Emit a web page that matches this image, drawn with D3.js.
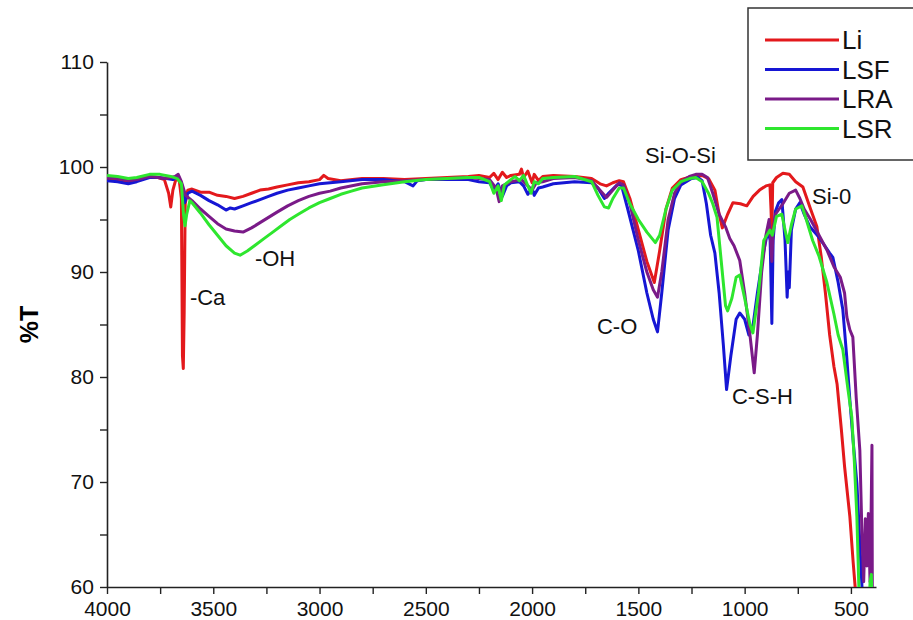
<!DOCTYPE html>
<html>
<head>
<meta charset="utf-8">
<script src="https://cdn.jsdelivr.net/npm/d3@7"></script>
<style>
  body { margin: 0; background: #fff; }
  svg { font-family: "Liberation Sans", Arial, sans-serif; }
</style>
</head>
<body>
<svg width="913" height="620"></svg>
<script>
// FTIR spectra, [wavenumber cm-1, %T]
const li = [[4000,98.9],[3950,98.8],[3900,98.6],[3860,98.8],[3800,99.1],[3760,99.0],[3730,98.8],[3710,97.5],[3700,96.2],[3690,97.8],[3675,98.9],[3660,98.7],[3650,97.0],[3645,82],[3641,80.8],[3637,86],[3632,96.5],[3620,97.8],[3600,97.9],[3560,97.6],[3520,97.6],[3480,97.3],[3440,97.2],[3400,97.0],[3360,97.2],[3320,97.5],[3280,97.8],[3240,97.9],[3200,98.1],[3150,98.3],[3100,98.5],[3050,98.6],[3000,98.8],[2980,99.2],[2960,98.9],[2900,98.7],[2800,98.9],[2700,98.9],[2600,98.8],[2500,98.9],[2400,99.0],[2300,99.1],[2250,99.2],[2200,99.0],[2180,99.4],[2160,98.8],[2140,99.5],[2120,99.0],[2100,99.2],[2060,99.3],[2050,99.8],[2040,99.0],[2020,99.6],[2000,98.5],[1990,99.3],[1970,98.7],[1950,99.1],[1900,99.2],[1800,99.1],[1720,98.9],[1680,98.4],[1650,98.2],[1620,98.5],[1590,98.7],[1570,98.6],[1540,97],[1500,94],[1460,91],[1425,89],[1400,92],[1370,96],[1340,98],[1300,98.8],[1250,99.1],[1200,99.2],[1170,98.9],[1140,97.8],[1120,95.5],[1105,94.2],[1080,95.5],[1055,96.6],[1020,96.5],[990,96.3],[960,97.2],[930,97.8],[900,98.2],[881,98.3],[876,96],[872,93.5],[868,98.5],[850,99.0],[820,99.4],[790,99.3],[760,98.6],[726,98.1],[690,96],[660,94.3],[640,91.5],[620,88],[600,84],[580,81],[565,79.3],[545,75],[530,71.5],[505,66.7],[490,62.5],[480,60],[470,57],[400,57]];

const lsf = [[4000,98.7],[3950,98.6],[3900,98.4],[3860,98.6],[3800,99.0],[3760,99.0],[3720,98.9],[3690,98.8],[3670,99.0],[3650,98.5],[3635,96.6],[3620,97.5],[3600,97.7],[3560,97.3],[3520,96.8],[3480,96.4],[3440,95.9],[3420,96.1],[3400,96.0],[3360,96.3],[3320,96.6],[3280,96.9],[3240,97.2],[3200,97.5],[3150,97.8],[3100,98.0],[3050,98.2],[3000,98.4],[2900,98.6],[2800,98.8],[2700,98.8],[2600,98.6],[2560,98.2],[2540,98.7],[2500,98.8],[2400,98.8],[2300,98.8],[2250,98.6],[2200,98.5],[2180,97.8],[2160,98.4],[2140,97.2],[2120,98.2],[2100,98.5],[2060,98.6],[2040,98.2],[2020,97.4],[2000,98.0],[1990,97.3],[1970,98.0],[1950,98.1],[1900,98.4],[1800,98.6],[1720,98.5],[1690,98.0],[1660,97.0],[1640,97.5],[1600,98.3],[1580,98.3],[1550,96],[1500,92],[1460,88],[1430,85.5],[1410,84.3],[1390,88],[1360,94],[1330,97],[1300,98.3],[1250,98.9],[1220,99.0],[1200,98.7],[1180,96.5],[1160,93.5],[1140,91.8],[1120,88],[1100,83],[1085,78.8],[1065,82],[1040,85.5],[1023,86.1],[1000,85.5],[980,84],[960,85],[940,88],[910,92],[890,94],[880,93],[872,85.1],[866,93],[855,95.8],[840,96.6],[825,96.9],[810,93],[800,87.6],[795,90],[790,88.5],[780,94],[760,96],[740,96.6],[720,95.5],[693,94.3],[650,93.3],[600,91.8],[585,91.4],[560,89],[538,86.4],[520,82],[505,77.8],[490,74],[472,69.9],[460,65],[449,60.4],[440,57],[400,57]];

const lra = [[4000,99.0],[3950,98.9],[3900,98.7],[3860,98.8],[3800,99.1],[3720,98.9],[3680,99.1],[3665,99.3],[3650,98.6],[3630,97.3],[3600,96.8],[3560,96.0],[3520,95.3],[3480,94.6],[3440,94.1],[3400,93.9],[3360,93.8],[3320,94.2],[3280,94.7],[3240,95.2],[3200,95.7],[3150,96.3],[3100,96.8],[3050,97.2],[3000,97.5],[2950,97.7],[2900,98.0],[2800,98.4],[2700,98.6],[2600,98.7],[2500,98.8],[2400,98.9],[2300,99.0],[2200,98.8],[2170,98.0],[2155,96.7],[2140,98.2],[2100,98.6],[2050,98.8],[2020,98.2],[2000,97.8],[1980,98.5],[1950,98.6],[1900,98.9],[1800,99.0],[1720,98.7],[1690,98.0],[1650,97.1],[1620,97.8],[1590,98.5],[1570,98.3],[1540,96.5],[1500,93],[1460,90],[1430,88.3],[1410,87.6],[1390,90],[1360,95],[1330,97.5],[1300,98.6],[1260,99.1],[1230,99.3],[1200,99.3],[1175,99.0],[1150,97.5],[1120,95.5],[1090,94.3],[1070,93.2],[1050,92.5],[1023,91.1],[1000,88],[975,84],[955,80.4],[940,84],[920,90],[900,93.5],[885,95],[878,93],[872,91],[866,94],[855,95.5],[820,96.5],[790,97.5],[760,97.8],[740,97],[720,96],[690,95],[650,93.5],[613,92.1],[580,90.5],[550,89.5],[530,88],[519,85.7],[505,84.5],[491,83.8],[475,78],[458,73],[448,65],[440,60.5],[432,66.5],[425,62],[418,67],[410,60.5],[405,67],[401,73.5],[399,57]];

const lsr = [[4000,99.2],[3950,99.1],[3900,98.9],[3860,99.0],[3800,99.3],[3750,99.3],[3700,99.1],[3670,98.9],[3650,98.4],[3640,95.5],[3633,94.4],[3625,95.5],[3610,96.8],[3600,96.6],[3560,95.6],[3520,94.5],[3480,93.5],[3440,92.5],[3400,91.8],[3374,91.6],[3340,92.0],[3300,92.6],[3260,93.2],[3220,93.8],[3180,94.4],[3140,95.0],[3100,95.5],[3050,96.1],[3000,96.6],[2950,97.0],[2900,97.4],[2850,97.7],[2800,98.0],[2700,98.3],[2600,98.6],[2500,98.8],[2400,98.9],[2300,99.0],[2250,99.0],[2200,98.6],[2180,97.5],[2160,98.2],[2145,96.8],[2130,98.3],[2100,98.8],[2080,99.1],[2060,98.7],[2040,99.2],[2020,98.2],[2005,97.5],[1990,98.6],[1970,98.4],[1950,98.9],[1900,99.0],[1800,99.1],[1720,98.6],[1690,97.3],[1660,96.2],[1640,96.1],[1620,97],[1590,98],[1570,98],[1540,96.5],[1500,95],[1460,93.8],[1420,92.8],[1400,93.5],[1370,96],[1340,97.8],[1300,98.6],[1260,98.9],[1230,99.0],[1200,98.6],[1170,97.5],[1150,96.5],[1130,95.2],[1110,91],[1090,86.8],[1080,86.3],[1060,87.5],[1040,89.5],[1023,89.7],[1000,87.5],[975,85],[961,84.2],[935,88],[910,93],[881,94],[870,93.5],[850,95.3],[825,95.5],[810,94],[797,92.8],[780,94.5],[760,96],[731,96.3],[710,95],[680,93],[650,91.5],[613,89],[580,86],[560,84],[538,82.6],[515,79],[496,76.2],[484,72],[472,66.7],[463,60.3],[455,57],[415,57],[410,60.5],[404,61.2],[400,57]];

const seriesNames = ["Li", "LSF", "LRA", "LSR"];
const seriesData = [li, lsf, lra, lsr];
const seriesColors = ["#e3191c", "#1616d4", "#7a1a88", "#2ee62e"];

const xTicks = [4000, 3500, 3000, 2500, 2000, 1500, 1000, 500];
const yTicks = [60, 70, 80, 90, 100, 110];

const notes = [
  {text: "-Ca", wn: 3610, t: 86.9},
  {text: "-OH", wn: 3304, t: 90.6},
  {text: "C-O", wn: 1695, t: 84.1},
  {text: "Si-O-Si", wn: 1469, t: 100.4},
  {text: "Si-0", wn: 683, t: 96.5},
  {text: "C-S-H", wn: 1060, t: 77.4}
];

const margin = {left: 107, right: 37, top: 62, bottom: 33};
const W = 913, H = 620;

const svg = d3.select("svg");

const x = d3.scaleLinear().domain([4000, 382]).range([margin.left, W - margin.right]);
const y = d3.scaleLinear().domain([60, 110]).range([H - margin.bottom, margin.top]);

svg.append("clipPath").attr("id", "plot")
  .append("rect")
  .attr("x", margin.left).attr("y", margin.top)
  .attr("width", W - margin.right - margin.left)
  .attr("height", H - margin.bottom - margin.top);

// axes
const xAxis = svg.append("g")
  .attr("transform", `translate(0,${H - margin.bottom})`)
  .call(d3.axisBottom(x).tickValues(d3.range(4000, 380, -250)).tickSize(7).tickSizeOuter(0)
    .tickFormat(d => xTicks.includes(d) ? d : ""));
const yAxis = svg.append("g")
  .attr("transform", `translate(${margin.left},0)`)
  .call(d3.axisLeft(y).tickValues(d3.range(60, 111, 5)).tickSize(7).tickSizeOuter(0)
    .tickFormat(d => yTicks.includes(d) ? d : ""));

[xAxis, yAxis].forEach(g => {
  g.select(".domain").attr("stroke", "#222").attr("stroke-width", 1.6);
  g.selectAll(".tick line").attr("stroke", "#222").attr("stroke-width", 1.4);
  g.selectAll("text").attr("font-size", 21).attr("fill", "#111")
    .attr("font-family", "Liberation Sans, Arial, sans-serif");
});
xAxis.selectAll("text").attr("dy", "0.9em");
yAxis.selectAll("text").attr("dx", "-0.15em");

svg.append("text")
  .attr("transform", `translate(38,${(y(60) + y(110)) / 2}) rotate(-90)`)
  .attr("text-anchor", "middle")
  .attr("font-size", 25).attr("font-weight", "bold")
  .text("%T");

// spectra
const line = d3.line().x(d => x(d[0])).y(d => y(d[1])).curve(d3.curveLinear);
svg.append("g").attr("clip-path", "url(#plot)")
  .selectAll("path")
  .data(seriesData)
  .join("path")
  .attr("d", line)
  .attr("fill", "none")
  .attr("stroke", (d, i) => seriesColors[i])
  .attr("stroke-width", 3)
  .attr("stroke-linejoin", "round");

// peak labels
svg.append("g").selectAll("text")
  .data(notes)
  .join("text")
  .attr("x", d => x(d.wn))
  .attr("y", d => y(d.t))
  .attr("font-size", 22)
  .attr("fill", "#111")
  .text(d => d.text);

// legend
const lg = svg.append("g");
lg.append("rect")
  .attr("x", 748).attr("y", 8).attr("width", 180).attr("height", 152)
  .attr("fill", "#fff").attr("stroke", "#333").attr("stroke-width", 1.5);
const items = lg.selectAll("g.item")
  .data(seriesNames)
  .join("g")
  .attr("class", "item")
  .attr("transform", (d, i) => `translate(0,${40 + i * 29.5})`);
items.append("line")
  .attr("x1", 765).attr("x2", 839).attr("y1", 0).attr("y2", 0)
  .attr("stroke", (d, i) => seriesColors[i]).attr("stroke-width", 3);
items.append("text")
  .attr("x", 842).attr("y", 9)
  .attr("font-size", 26).attr("fill", "#111")
  .text(d => d);
</script>
</body>
</html>
